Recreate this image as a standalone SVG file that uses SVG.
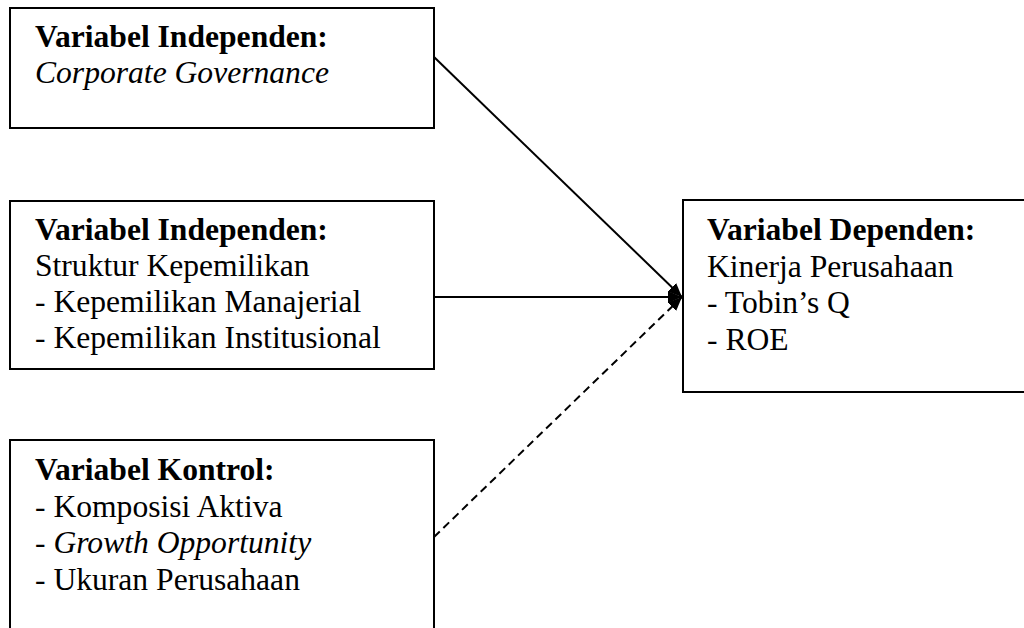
<svg xmlns="http://www.w3.org/2000/svg" width="1024" height="628" viewBox="0 0 1024 628">
<style>
.box{fill:#fff;stroke:#000;stroke-width:2}
.t{font-family:"Liberation Serif","Times New Roman",serif;font-size:31.6px;fill:#000}
.b{font-weight:bold}
.i{font-style:italic}
.c{fill:none;stroke:#000;stroke-width:2}
.d{stroke-dasharray:8 5}
</style>
<defs>
<marker id="ah" markerUnits="userSpaceOnUse" markerWidth="16" markerHeight="14" refX="14" refY="6" orient="auto">
<path d="M0,0 L14,6 L0,12 z" fill="#000"/>
</marker>
</defs>
<rect width="1024" height="628" fill="#fff"/>
<g id="connectors">
<line class="c" x1="434" y1="57" x2="682" y2="297" marker-end="url(#ah)"/>
<line class="c" x1="434" y1="297" x2="682" y2="297" marker-end="url(#ah)"/>
<line class="c d" x1="434" y1="537" x2="682" y2="297" marker-end="url(#ah)"/>
</g>
<g id="node-cg">
<rect class="box" x="10" y="8" width="424" height="120"/>
<text class="t b" x="35" y="47">Variabel Independen:</text>
<text class="t i" x="35" y="83">Corporate Governance</text>
</g>
<g id="node-struktur">
<rect class="box" x="10" y="201" width="424" height="168"/>
<text class="t b" x="35" y="240">Variabel Independen:</text>
<text class="t" x="35" y="276">Struktur Kepemilikan</text>
<text class="t" x="35" y="312">- Kepemilikan Manajerial</text>
<text class="t" x="35" y="348">- Kepemilikan Institusional</text>
</g>
<g id="node-kontrol">
<rect class="box" x="10" y="440" width="424" height="200"/>
<text class="t b" x="35" y="480">Variabel Kontrol:</text>
<text class="t" x="35" y="517">- Komposisi Aktiva</text>
<text class="t" x="35" y="553">- <tspan class="i">Growth Opportunity</tspan></text>
<text class="t" x="35" y="590">- Ukuran Perusahaan</text>
</g>
<g id="node-dependen">
<rect class="box" x="683" y="200" width="350" height="192"/>
<text class="t b" x="707" y="240">Variabel Dependen:</text>
<text class="t" x="707" y="277">Kinerja Perusahaan</text>
<text class="t" x="707" y="313">- Tobin’s Q</text>
<text class="t" x="707" y="350">- ROE</text>
</g>
</svg>
